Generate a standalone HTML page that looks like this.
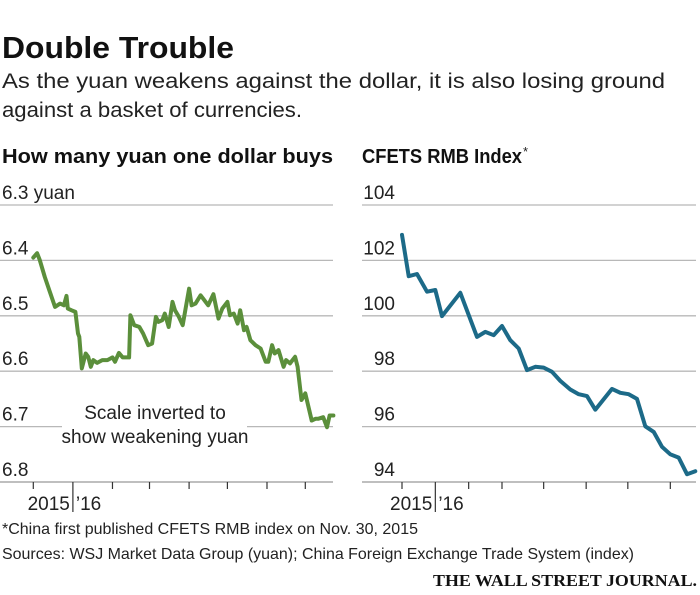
<!DOCTYPE html>
<html><head><meta charset="utf-8"><style>
body{margin:0;background:#fff;}
svg{display:block;font-family:"Liberation Sans Narrow","Liberation Sans",sans-serif;}
</style></head><body>
<svg id="c" width="700" height="595" viewBox="0 0 700 595">
<text x="2" y="58" font-size="31" font-weight="bold" textLength="232" lengthAdjust="spacingAndGlyphs" fill="#111">Double Trouble</text>
<text x="2" y="88" font-size="21" fill="#222" textLength="663" lengthAdjust="spacingAndGlyphs">As the yuan weakens against the dollar, it is also losing ground</text>
<text x="2" y="117" font-size="21" fill="#222" textLength="300" lengthAdjust="spacingAndGlyphs">against a basket of currencies.</text>
<text x="2" y="163" font-size="20" font-weight="bold" fill="#111" textLength="331" lengthAdjust="spacingAndGlyphs">How many yuan one dollar buys</text>
<text x="362" y="163" font-size="20" font-weight="bold" fill="#111" textLength="160" lengthAdjust="spacingAndGlyphs">CFETS RMB Index</text>
<text x="523" y="156" font-size="13" fill="#222">*</text>
<g id="left"></g>
<g id="right"></g>
<text x="2" y="534" font-size="16" fill="#222" textLength="416" lengthAdjust="spacingAndGlyphs">*China first published CFETS RMB index on Nov. 30, 2015</text>
<text x="2" y="559" font-size="16" fill="#222" textLength="632" lengthAdjust="spacingAndGlyphs">Sources: WSJ Market Data Group (yuan); China Foreign Exchange Trade System (index)</text>
<text x="697" y="586" font-size="17" font-weight="bold" text-anchor="end" fill="#111" textLength="264" lengthAdjust="spacingAndGlyphs" font-family="Liberation Serif,serif">THE WALL STREET JOURNAL.</text>
</svg>
<script>
const yuanDays=[0,3,5,9,13,17,21,24,26,27,30,33,35,36,38,41,43,45,47,50,54,58,62,64,67,70,75,76,79,83,86,90,93,96,98,101,103,106,109,111,114,117,119,122,124,127,131,133,137,141,145,148,152,154,157,160,162,165,167,170,174,178,182,184,187,189,192,196,198,201,205,207,210,213,218,221,223,227,230,232,235];
const yuanValues=[6.395,6.387,6.399,6.430,6.457,6.484,6.478,6.481,6.464,6.487,6.490,6.493,6.532,6.538,6.595,6.568,6.574,6.592,6.580,6.585,6.580,6.580,6.575,6.583,6.567,6.575,6.575,6.499,6.517,6.520,6.532,6.553,6.550,6.502,6.511,6.508,6.496,6.520,6.475,6.490,6.502,6.517,6.490,6.451,6.481,6.478,6.463,6.469,6.481,6.461,6.505,6.487,6.475,6.499,6.496,6.514,6.490,6.526,6.520,6.544,6.553,6.559,6.583,6.583,6.553,6.568,6.562,6.592,6.580,6.586,6.574,6.592,6.652,6.640,6.689,6.686,6.686,6.683,6.701,6.680,6.680];
const yuanTicks=[6.3,6.4,6.5,6.6,6.7,6.8];
const yuanTickLabels=["6.3 yuan","6.4","6.5","6.6","6.7","6.8"];
const yuanMonthTicks=[0,31,62,91,122,152,183,213];
const cfetsWeeks=[0,0.8,1.8,3,4,4.8,7,9,10,11,12,13,14,15,16,17,18,19,20.2,21.2,22.2,23.2,25.2,26.2,27.2,28.2,29.2,30.2,31.2,32.2,33.2,34.2,35.2];
const cfetsValues=[102.92,101.43,101.51,100.87,100.93,99.99,100.83,99.24,99.42,99.30,99.63,99.12,98.82,98.04,98.16,98.13,97.98,97.65,97.34,97.17,97.10,96.61,97.36,97.22,97.17,97.00,96.01,95.81,95.27,95.00,94.88,94.28,94.39];
const cfetsTicks=[104,102,100,98,96,94];
const cfetsTickLabels=["104","102","100","98","96","94"];
const cfetsMonthTicks=[0,4,8,12,17,22.1,27.1,32.2];

const NS="http://www.w3.org/2000/svg";
function mk(p,tag,a){const e=document.createElementNS(NS,tag);for(const k in a)e.setAttribute(k,a[k]);p.appendChild(e);return e;}

function drawChart(g,o){
  const y=v=>o.y0+(v-o.v0)*(o.y1-o.y0)/(o.v1-o.v0);
  const x=d=>o.x0+(d-o.d0)*o.kx;
  o.ticks.forEach((t,i)=>{
    const yy=y(t);const last=i===o.ticks.length-1;
    if(o.gap&&t===o.gap.v){
      let l=mk(g,'line',{x1:o.gx0,x2:o.gap.a,y1:yy,y2:yy,stroke:'#b8b8b8','stroke-width':1.3});
      
      
      l=mk(g,'line',{x1:o.gap.b,x2:o.gx1,y1:yy,y2:yy,stroke:'#b8b8b8','stroke-width':1.3});
      
      
    } else {
      const l=mk(g,'line',{x1:o.gx0,x2:o.gx1,y1:yy,y2:yy,stroke:last?'#999':'#b8b8b8','stroke-width':1.3});
      
      
    }
    const tx=mk(g,'text',{x:o.lx,y:yy-6,'font-size':19,fill:'#222','text-anchor':o.anchor});
    tx.textContent=o.labels[i];
    
    
  });
  const axisY=y(o.ticks[o.ticks.length-1]);
  o.months.forEach((m,i)=>{
    const xx=x(m);
    const t=mk(g,'line',{x1:xx,x2:xx,y1:axisY,y2:axisY+(i===1?30:7),stroke:'#333','stroke-width':1.2});
    
    
  });
  const d1=x(o.months[1]);
  let t=mk(g,'text',{x:d1-3,y:axisY+28,'font-size':19,fill:'#222','text-anchor':'end'});t.textContent='2015';
  
  
  t=mk(g,'text',{x:d1+3,y:axisY+28,'font-size':19,fill:'#222'});t.textContent='\u201916';
  
  
  const pts=o.xs.map((d,i)=>x(d).toFixed(1)+','+y(o.vals[i]).toFixed(1)).join(' ');
  const pl=mk(g,'polyline',{points:pts,fill:'none',stroke:o.color,'stroke-width':4,'stroke-linejoin':'round','stroke-linecap':'round'});
  
  
}
drawChart(document.getElementById('left'),{y0:205,y1:482,v0:6.3,v1:6.8,x0:33.3,d0:0,kx:1.277,gx0:0,gx1:333,lx:2,anchor:'start',ticks:yuanTicks,labels:yuanTickLabels,months:yuanMonthTicks,xs:yuanDays,vals:yuanValues,color:'#5b8f3b',lineName:'yuan-line',gap:{v:6.7,a:62,b:247}});
drawChart(document.getElementById('right'),{y0:205,y1:482,v0:104,v1:94,x0:402,d0:0,kx:8.333,gx0:362,gx1:696,lx:395,anchor:'end',ticks:cfetsTicks,labels:cfetsTickLabels,months:cfetsMonthTicks,xs:cfetsWeeks,vals:cfetsValues,color:'#1c6a88',lineName:'cfets-line'});
const lg=document.getElementById('left');
const a1=mk(lg,'text',{x:155,y:419,'font-size':19,fill:'#222','text-anchor':'middle'});a1.textContent='Scale inverted to';


const a2=mk(lg,'text',{x:155,y:443,'font-size':19,fill:'#222','text-anchor':'middle'});a2.textContent='show weakening yuan';


</script>
</body></html>
